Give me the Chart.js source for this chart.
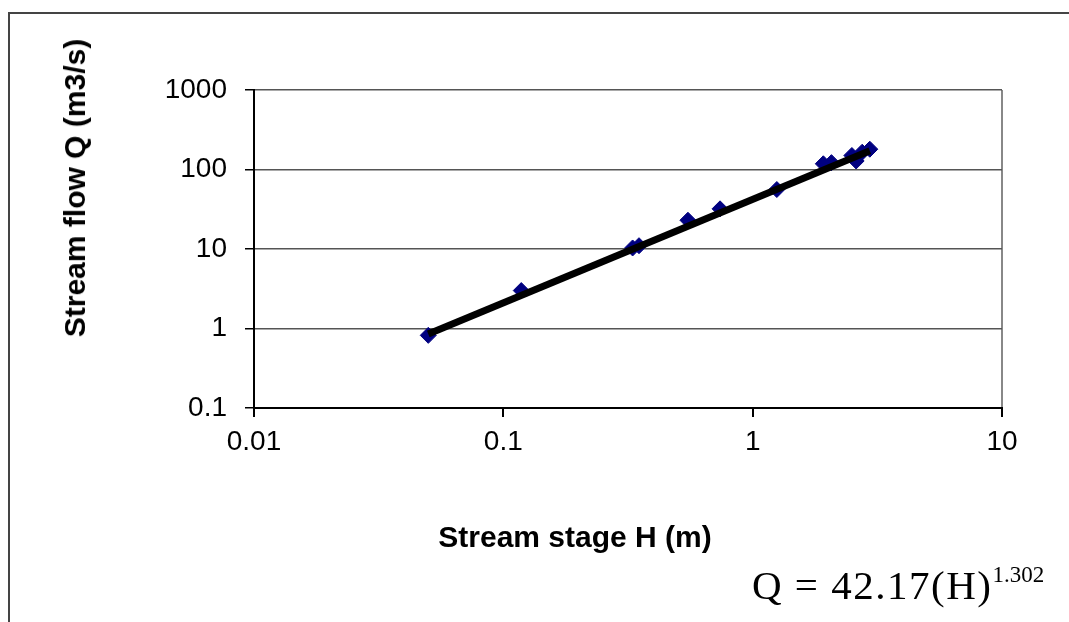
<!DOCTYPE html>
<html>
<head>
<meta charset="utf-8">
<script src="https://cdn.jsdelivr.net/npm/chart.js@4/dist/chart.umd.min.js"></script>
<style>
html, body { margin: 0; padding: 0; background: #fff; }
#wrap { position: relative; width: 1069px; height: 622px; overflow: hidden; }
#frame { position: absolute; left: 8px; top: 12px; width: 1200px; height: 800px;
         border-left: 2px solid #444; border-top: 2px solid #444; }
canvas { position: absolute; left: 0; top: 0; }
.axtitle { position: absolute; font-family: "Liberation Sans", Arial, sans-serif; font-weight: bold;
           font-size: 30px; color: #000; white-space: nowrap; line-height: 34px; }
#xtitle { left: 575px; top: 537px; transform: translate(-50%, -50%); }
#ytitle { left: 75px; top: 188px; transform: translate(-50%, -50%) rotate(-90deg); }
#eq { position: absolute; left: 752px; top: 565px; font-family: "Liberation Serif", "Times New Roman", serif;
      font-size: 41px; line-height: 40px; letter-spacing: 1.5px; color: #000; white-space: nowrap; }
#eq span { position: relative; top: -17px; font-size: 23px; letter-spacing: 0; }
</style>
</head>
<body>
<div id="wrap">
  <div id="frame"></div>
  <canvas id="rating" width="1069" height="622"></canvas>
  <div class="axtitle" id="xtitle">Stream stage H (m)</div>
  <div class="axtitle" id="ytitle">Stream flow Q (m3/s)</div>
  <div id="eq">Q = 42.17(H)<span>1.302</span></div>
</div>
<script>
// measured stage / discharge pairs
const stageH = [0.05, 0.118, 0.33, 0.35, 0.55, 0.74, 1.25, 1.92, 2.07, 2.5, 2.6, 2.75, 2.95];
const flowQ  = [0.82, 3.0, 10.3, 11.0, 23, 32, 56, 118, 122, 150, 128, 165, 180];

// power-law fit line end points
const fitH = [0.05, 2.95];
const fitQ = [0.853, 172.5];

const xTicks = [0.01, 0.1, 1, 10];
const xTickLabels = ['0.01', '0.1', '1', '10'];
const yTicks = [0.1, 1, 10, 100, 1000];
const yTickLabels = ['0.1', '1', '10', '100', '1000'];

const tickFont = { family: '"Liberation Sans", Arial, sans-serif', size: 28 };

const pts = stageH.map((h, i) => ({ x: h, y: flowQ[i] }));
const fit = fitH.map((h, i) => ({ x: h, y: fitQ[i] }));

new Chart(document.getElementById('rating').getContext('2d'), {
    type: 'scatter',
    data: {
        datasets: [
            {
                label: 'fit',
                data: fit,
                showLine: true,
                borderColor: '#000',
                borderWidth: 7,
                pointRadius: 0
            },
            {
                label: 'Q',
                data: pts,
                pointStyle: 'rectRot',
                pointRadius: 8,
                backgroundColor: '#000080',
                borderColor: '#000080',
                borderWidth: 1
            }
        ]
    },
    options: {
        responsive: false,
        animation: false,
        layout: { padding: { top: 90, right: 67, left: 0, bottom: 0 } },
        plugins: { legend: { display: false }, tooltip: { enabled: false } },
        scales: {
            x: {
                type: 'logarithmic',
                min: 0.01,
                max: 10,
                afterBuildTicks: s => { s.ticks = xTicks.map(v => ({ value: v })); },
                afterFit: s => { s.height = 214; },
                ticks: {
                    autoSkip: false,
                    maxRotation: 0,
                    padding: 8,
                    color: '#000',
                    font: tickFont,
                    callback: (v, i) => xTickLabels[i]
                },
                grid: {
                    color: c => c.index === xTicks.length - 1 ? '#888' : 'rgba(0,0,0,0)',
                    lineWidth: 2,
                    tickColor: '#000',
                    tickLength: 9
                },
                border: { color: '#000', width: 2 }
            },
            y: {
                type: 'logarithmic',
                min: 0.1,
                max: 1000,
                afterBuildTicks: s => { s.ticks = yTicks.map(v => ({ value: v })); },
                afterFit: s => { s.width = 254; },
                ticks: {
                    autoSkip: false,
                    padding: 18,
                    color: '#000',
                    font: tickFont,
                    callback: (v, i) => yTickLabels[i]
                },
                grid: {
                    color: '#555',
                    lineWidth: 1.5,
                    tickColor: '#000',
                    tickLength: 9
                },
                border: { color: '#000', width: 2 }
            }
        }
    }
});
</script>
</body>
</html>
